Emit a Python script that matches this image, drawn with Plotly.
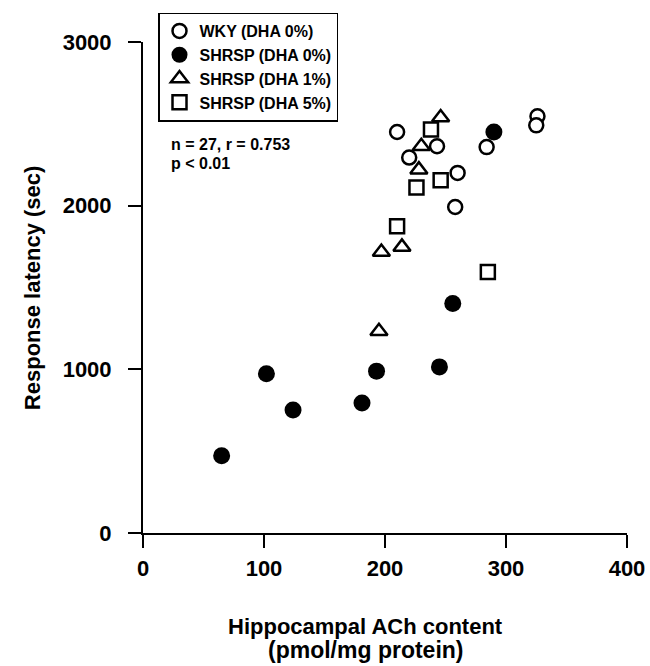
import plotly.graph_objects as go

# ---- data ----
wky_x = [210, 220, 243, 284, 260, 258, 326, 325]
wky_y = [2450, 2294, 2363, 2358, 2200, 1992, 2546, 2491]

shr0_x = [290, 256, 245, 102, 124, 65, 181, 193]
shr0_y = [2450, 1402, 1015, 973, 751, 472, 794, 989]

shr1_x = [246, 230, 228, 197, 214, 195]
shr1_y = [2538, 2363, 2220, 1717, 1748, 1233]

shr5_x = [238, 246, 226, 210, 285]
shr5_y = [2465, 2155, 2111, 1874, 1595]

series_names = ["WKY (DHA 0%)", "SHRSP (DHA 0%)", "SHRSP (DHA 1%)", "SHRSP (DHA 5%)"]
x_ticks = [0, 100, 200, 300, 400]
y_ticks = [0, 1000, 2000, 3000]
stats_lines = ["n = 27, r = 0.753", "p < 0.01"]
x_title_lines = ["Hippocampal ACh content", "(pmol/mg protein)"]
y_title = "Response latency (sec)"

FONT = "Liberation Sans, Arial, Helvetica, sans-serif"

fig = go.Figure()
fig.add_trace(go.Scatter(x=wky_x, y=wky_y, mode="markers", name=series_names[0],
                         marker=dict(symbol="circle", size=14, color="white",
                                     line=dict(color="black", width=2.5))))
fig.add_trace(go.Scatter(x=shr0_x, y=shr0_y, mode="markers", name=series_names[1],
                         marker=dict(symbol="circle", size=17, color="black",
                                     line=dict(color="black", width=0))))
fig.add_trace(go.Scatter(x=shr1_x, y=shr1_y, mode="markers", name=series_names[2],
                         marker=dict(symbol="triangle-up-open", size=15, color="black",
                                     line=dict(color="black", width=2.5))))
fig.add_trace(go.Scatter(x=shr5_x, y=shr5_y, mode="markers", name=series_names[3],
                         marker=dict(symbol="square-open", size=14, color="black",
                                     line=dict(color="black", width=2.5))))
for t in fig.data:
    t.cliponaxis = False

axis_common = dict(showgrid=False, zeroline=False, showline=True, linecolor="black",
                   linewidth=2, ticks="outside", ticklen=13, tickwidth=2, tickcolor="black",
                   tickfont=dict(family=FONT, size=22, color="black", weight="bold"))

fig.update_xaxes(range=[0, 400], tickvals=x_ticks, ticktext=[str(v) for v in x_ticks],
                 ticklabelstandoff=2, **axis_common)
fig.update_yaxes(range=[0, 3000], tickvals=y_ticks, ticktext=[str(v) for v in y_ticks],
                 ticklabelstandoff=12, **axis_common)

fig.add_annotation(text="<b>" + x_title_lines[0] + "</b>", xref="paper", yref="paper",
                   x=0.459, y=-0.190, xanchor="center", yanchor="middle", showarrow=False,
                   borderpad=0, font=dict(family=FONT, size=22, color="black"))
fig.add_annotation(text="<b>" + x_title_lines[1] + "</b>", xref="paper", yref="paper",
                   x=0.459, y=-0.239, xanchor="center", yanchor="middle", showarrow=False,
                   borderpad=0, font=dict(family=FONT, size=23, color="black"))
fig.add_annotation(text="<b>" + y_title + "</b>", xref="paper", yref="paper",
                   x=-0.228, y=0.5, xanchor="center", yanchor="middle", textangle=-90,
                   showarrow=False, font=dict(family=FONT, size=22, color="black"))
for line, yy in zip(stats_lines, [0.791, 0.753]):
    fig.add_annotation(text="<b>" + line + "</b>", xref="paper", yref="paper",
                       x=0.053, y=yy, xanchor="left", yanchor="middle", align="left",
                       showarrow=False, font=dict(family=FONT, size=16, color="black"))

fig.update_layout(
    width=650, height=666,
    margin=dict(l=142.7, r=22.7, t=41.5, b=133, autoexpand=False),
    paper_bgcolor="white", plot_bgcolor="white",
    showlegend=True,
    legend=dict(x=0.031, y=1.06, xanchor="left", yanchor="top",
                bordercolor="black", borderwidth=1.5, bgcolor="white",
                font=dict(family=FONT, size=16, color="black", weight="bold"),
                itemwidth=30, tracegroupgap=0),
)

fig.write_html("out.html",
               config={"displayModeBar": False},
               post_script="document.body.style.margin='0px';"
                           "document.body.style.overflow='hidden';")
